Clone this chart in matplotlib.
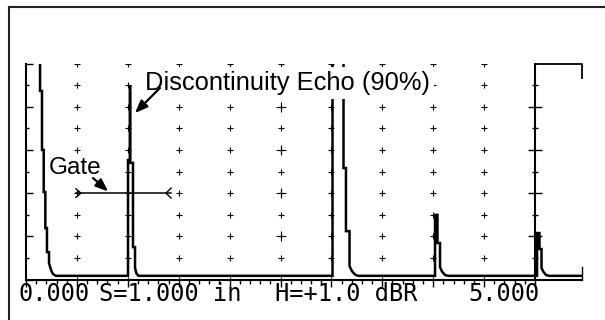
import matplotlib
matplotlib.use("Agg")
import matplotlib.pyplot as plt
from matplotlib.lines import Line2D
from matplotlib.patches import Rectangle
import numpy as np

# ---- screen set-up: sound path in inches, amplitude in % full screen height
RANGE_START, RANGE_END = 0.0, 5.0
DIV_WIDTH = 0.5
SCREEN_EXTENT = 5.462      # display area continues past the graticule
SATURATED = 110.0          # echoes that run off the top of the screen
BASELINE = 1.7             # trace noise floor

# ---- A-scan trace, one vertex list per signal
pulse_path = [0.138, 0.138, 0.157, 0.157, 0.174, 0.174, 0.190, 0.190, 0.206,
              0.206, 0.226, 0.226, 0.246, 0.265, 0.295]
pulse_amp = [SATURATED, 87.3, 87.3, 60.0, 60.0, 40.5, 40.5, 23.8, 23.8,
             12.7, 12.7, 7.6, 4.4, 2.5, BASELINE]

flaw_path = [1.002, 1.002, 1.022, 1.022, 1.022, 1.051, 1.051, 1.071, 1.071,
             1.085, 1.105]
flaw_amp = [BASELINE, 55.3, 55.3, 90.0, 54.0, 54.0, 15.0, 15.0, 5.3,
            2.8, BASELINE]

backwall_path = [3.011, 3.011, 3.119, 3.119, 3.143, 3.143, 3.178, 3.178,
                 3.202, 3.232, 3.261]
backwall_amp = [BASELINE, SATURATED, SATURATED, 51.6, 51.6, 22.4, 22.4, 6.2,
                3.9, 2.3, BASELINE]

second_path = [4.018, 4.018, 4.042, 4.042, 4.067, 4.067, 4.086, 4.116, 4.145]
second_amp = [BASELINE, 29.9, 29.9, 16.9, 16.9, 5.8, 3.7, 2.1, BASELINE]

third_path = [5.020, 5.020, 5.044, 5.044, 5.064, 5.064, 5.083, 5.108, 5.138,
              SCREEN_EXTENT]
third_amp = [BASELINE, 21.5, 21.5, 14.1, 14.1, 5.3, 3.5, 2.1, BASELINE,
             BASELINE]

# ---- gate
GATE_START, GATE_END, GATE_LEVEL = 0.49, 1.425, 40.0

# ---- readout line under the screen
readout_left = "0.000"
readout_range = "S=1.000 in"
readout_gain = "H=+1.0 dBR"
readout_right = "5.000"

INK = "black"

fig = plt.figure(figsize=(6.05, 3.2), dpi=100)
fig.patch.set_facecolor("white")
ax = fig.add_axes([26 / 605, 40.5 / 320, 509 / 605, 216 / 320])
ax.set_xlim(RANGE_START, RANGE_END)
ax.set_ylim(0, 100)
ax.patch.set_visible(False)

for side in ("top", "right"):
    ax.spines[side].set_visible(False)
for side in ("left", "bottom"):
    ax.spines[side].set_linewidth(1.5)
    ax.spines[side].set_color(INK)

ax.set_xticks(np.arange(RANGE_START, RANGE_END + 1e-6, DIV_WIDTH))
ax.set_xticks(np.arange(RANGE_START, RANGE_END + 1e-6, DIV_WIDTH / 5), minor=True)
ax.set_yticks(np.arange(0, 101, 20))
ax.set_yticks(np.arange(10, 100, 20), minor=True)
ax.tick_params(axis="x", which="major", direction="out", length=4.7, width=1.0,
               color=INK, labelbottom=False)
ax.tick_params(axis="x", which="minor", direction="out", length=2.9, width=1.0,
               color=INK)
ax.tick_params(axis="y", which="major", direction="in", length=4.7, width=1.0,
               color=INK, labelleft=False)
ax.tick_params(axis="y", which="minor", direction="in", length=2.4, width=1.0,
               color=INK)

# right-hand graticule edge with ticks on both sides
axr = ax.twinx()
axr.set_ylim(0, 100)
for side in ("top", "left", "bottom"):
    axr.spines[side].set_visible(False)
axr.spines["right"].set_linewidth(1.5)
axr.spines["right"].set_color(INK)
axr.set_yticks(np.arange(20, 100, 20))
axr.set_yticks(np.arange(10, 100, 20), minor=True)
axr.tick_params(axis="y", which="major", direction="inout", length=9.4,
                width=1.0, color=INK, labelright=False)
axr.tick_params(axis="y", which="minor", direction="inout", length=4.8,
                width=1.0, color=INK)

# graticule crosses
cols = np.arange(RANGE_START + DIV_WIDTH, RANGE_END - 1e-6, DIV_WIDTH)
rows = np.arange(0, 101, 10)
gx, gy = np.meshgrid(cols, rows)
ax.plot(gx.ravel(), gy.ravel(), ls="none", marker="+", ms=4.8, mew=0.8,
        color=INK, zorder=2)
centre = (RANGE_START + RANGE_END) / 2
big_rows = np.arange(20, 100, 20)
ax.plot(np.full(big_rows.shape, centre), big_rows, ls="none", marker="+",
        ms=7.2, mew=0.8, color=INK, zorder=2)

# the A-scan trace
trace_x = pulse_path + flaw_path + backwall_path + second_path + third_path
trace_y = pulse_amp + flaw_amp + backwall_amp + second_amp + third_amp
trace, = ax.plot(trace_x, trace_y, color=INK, lw=1.8, solid_joinstyle="miter",
                 solid_capstyle="butt", zorder=3)
trace.set_clip_path(Rectangle((RANGE_START - 1, -10), SCREEN_EXTENT + 2, 110,
                              transform=ax.transData))

# extension of the screen past the graticule
ax.plot([RANGE_END, SCREEN_EXTENT], [0, 0], color=INK, lw=1.5, clip_on=False,
        solid_capstyle="butt", zorder=3)
ax.plot([RANGE_END, SCREEN_EXTENT, SCREEN_EXTENT], [100, 100, 93.3], color=INK,
        lw=1.3, clip_on=False, zorder=3)
ax.plot([SCREEN_EXTENT, SCREEN_EXTENT], [0, 5.8], color=INK, lw=1.0,
        clip_on=False, zorder=3)

# gate bar with its end markers
ax.plot([GATE_START, GATE_END], [GATE_LEVEL, GATE_LEVEL], color=INK, lw=1.1,
        zorder=4)
ax.plot([GATE_START, GATE_START + 0.05, GATE_START],
        [GATE_LEVEL + 2.0, GATE_LEVEL, GATE_LEVEL - 2.0], color=INK, lw=1.0,
        zorder=4)
ax.plot([GATE_END, GATE_END - 0.05, GATE_END],
        [GATE_LEVEL + 2.3, GATE_LEVEL, GATE_LEVEL - 2.3], color=INK, lw=1.0,
        zorder=4)

# labels and pointers
box = dict(boxstyle="square,pad=0.14", fc="white", ec="none")
ax.text(1.169, 87.7, "Discontinuity Echo (90%)", ha="left", va="baseline",
        color=INK, bbox=box, zorder=5,
        family=["Liberation Sans", "DejaVu Sans"], size=18.4)
ax.text(0.226, 48.8, "Gate", ha="left", va="baseline", color=INK, bbox=box,
        zorder=5, family=["Liberation Sans", "DejaVu Sans"], size=17.5)

arrow = dict(arrowstyle="-|>,head_length=0.75,head_width=0.3", color=INK,
             lw=1.6, mutation_scale=10, shrinkA=0, shrinkB=0)
ax.annotate("", xy=(1.071, 77.1), xytext=(1.316, 88.7), arrowprops=arrow,
            zorder=6)
ax.annotate("", xy=(0.806, 40.8), xytext=(0.658, 47.0), arrowprops=arrow,
            zorder=6)

# readout
mono = dict(family=["DejaVu Sans Mono"], size=17, color=INK, va="baseline",
            clip_on=False)
ax.text(-0.07, -10.0, readout_left, ha="left", **mono)
ax.text(0.72, -10.0, readout_range, ha="left", **mono)
ax.text(2.45, -10.0, readout_gain, ha="left", **mono)
ax.text(5.05, -10.0, readout_right, ha="right", **mono)

# outer panel frame
frame = dict(transform=fig.transFigure, color="#222222", lw=1.5)
fig.add_artist(Line2D([9 / 605, 1.05], [1 - 7 / 320, 1 - 7 / 320], **frame))
fig.add_artist(Line2D([9 / 605, 9 / 605], [1 - 7 / 320, -0.05], **frame))

fig.savefig("out.png", dpi=100, facecolor="white")
